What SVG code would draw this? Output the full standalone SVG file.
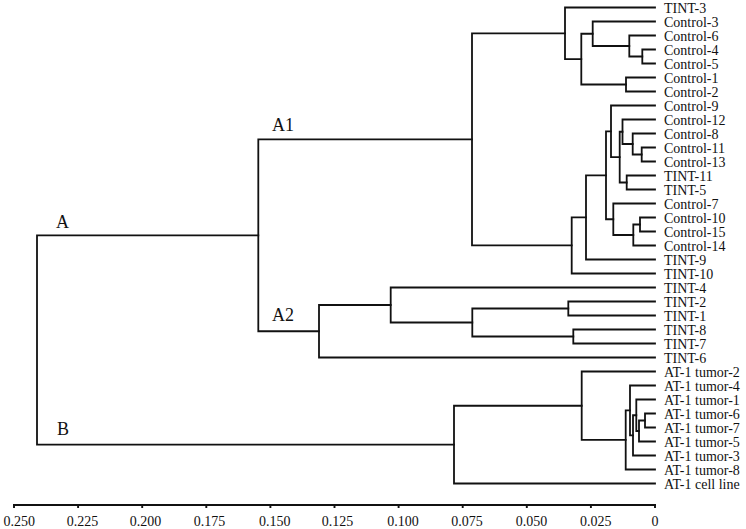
<svg xmlns="http://www.w3.org/2000/svg" width="746" height="529" viewBox="0 0 746 529">
<style>
.br{fill:none;stroke:#111;stroke-width:1.8;stroke-linejoin:miter;stroke-linecap:square}
.ax{fill:none;stroke:#111;stroke-width:1.9}
.lf{font-family:"Liberation Serif","Times New Roman",serif;font-size:14px;fill:#111}
.tk{font-family:"Liberation Serif","Times New Roman",serif;font-size:14px;fill:#111;text-anchor:middle}
.cl{font-family:"Liberation Serif","Times New Roman",serif;font-size:18px;fill:#111}
</style>
<rect width="746" height="529" fill="#fff"/>
<g id="connectors" class="br">
<path d="M655 49.5H642.3V63.5H655"/>
<path d="M655 35.5H629.3V56.5H642.3"/>
<path d="M655 21.5H592.7V46H629.3"/>
<path d="M655 77.5H626V91.5H655"/>
<path d="M592.7 33.75H581.3V84.5H626"/>
<path d="M655 7.5H565V59.13H581.3"/>
<path d="M655 147.5H641.7V161.5H655"/>
<path d="M655 133.5H632.7V154.5H641.7"/>
<path d="M655 119.5H622.5V144H632.7"/>
<path d="M655 175.5H626.7V189.5H655"/>
<path d="M622.5 131.75H619.7V182.5H626.7"/>
<path d="M655 105.5H611V157.13H619.7"/>
<path d="M655 217.5H640V231.5H655"/>
<path d="M640 224.5H633.3V245.5H655"/>
<path d="M655 203.5H613.3V235H633.3"/>
<path d="M611 131.31H606V219.25H613.3"/>
<path d="M606 175.28H586V259.5H655"/>
<path d="M586 217.39H571.7V273.5H655"/>
<path d="M565 33.31H472V245.45H571.7"/>
<path d="M655 301.5H568.3V315.5H655"/>
<path d="M655 329.5H573.3V343.5H655"/>
<path d="M568.3 308.5H472.3V336.5H573.3"/>
<path d="M655 287.5H390.7V322.5H472.3"/>
<path d="M390.7 305H319V357.5H655"/>
<path d="M472 139.38H258.3V331.25H319"/>
<path d="M655 413.5H645V427.5H655"/>
<path d="M645 420.5H639V441.5H655"/>
<path d="M655 399.5H636.3V431H639"/>
<path d="M636.3 415.25H633V455.5H655"/>
<path d="M655 385.5H630V435.38H633"/>
<path d="M630 410.44H625.7V469.5H655"/>
<path d="M655 371.5H581.7V439.97H625.7"/>
<path d="M581.7 405.73H454V483.5H655"/>
<path d="M258.3 235.31H37V444.62H454"/>
</g>
<g id="clusters" class="cl">
<text id="label-A" x="56" y="228">A</text>
<text id="label-A1" x="272" y="131">A1</text>
<text id="label-A2" x="272" y="321">A2</text>
<text id="label-B" x="57" y="435">B</text>
</g>
<g id="leaves" class="lf">
<g id="leaf-TINT-3"><text x="664" y="12.5">TINT-3</text></g>
<g id="leaf-Control-3"><text x="664" y="26.5">Control-3</text></g>
<g id="leaf-Control-6"><text x="664" y="40.5">Control-6</text></g>
<g id="leaf-Control-4"><text x="664" y="54.5">Control-4</text></g>
<g id="leaf-Control-5"><text x="664" y="68.5">Control-5</text></g>
<g id="leaf-Control-1"><text x="664" y="82.5">Control-1</text></g>
<g id="leaf-Control-2"><text x="664" y="96.5">Control-2</text></g>
<g id="leaf-Control-9"><text x="664" y="110.5">Control-9</text></g>
<g id="leaf-Control-12"><text x="664" y="124.5">Control-12</text></g>
<g id="leaf-Control-8"><text x="664" y="138.5">Control-8</text></g>
<g id="leaf-Control-11"><text x="664" y="152.5">Control-11</text></g>
<g id="leaf-Control-13"><text x="664" y="166.5">Control-13</text></g>
<g id="leaf-TINT-11"><text x="664" y="180.5">TINT-11</text></g>
<g id="leaf-TINT-5"><text x="664" y="194.5">TINT-5</text></g>
<g id="leaf-Control-7"><text x="664" y="208.5">Control-7</text></g>
<g id="leaf-Control-10"><text x="664" y="222.5">Control-10</text></g>
<g id="leaf-Control-15"><text x="664" y="236.5">Control-15</text></g>
<g id="leaf-Control-14"><text x="664" y="250.5">Control-14</text></g>
<g id="leaf-TINT-9"><text x="664" y="264.5">TINT-9</text></g>
<g id="leaf-TINT-10"><text x="664" y="278.5">TINT-10</text></g>
<g id="leaf-TINT-4"><text x="664" y="292.5">TINT-4</text></g>
<g id="leaf-TINT-2"><text x="664" y="306.5">TINT-2</text></g>
<g id="leaf-TINT-1"><text x="664" y="320.5">TINT-1</text></g>
<g id="leaf-TINT-8"><text x="664" y="334.5">TINT-8</text></g>
<g id="leaf-TINT-7"><text x="664" y="348.5">TINT-7</text></g>
<g id="leaf-TINT-6"><text x="664" y="362.5">TINT-6</text></g>
<g id="leaf-AT1-tumor-2"><text x="664" y="376.5">AT-1 tumor-2</text></g>
<g id="leaf-AT1-tumor-4"><text x="664" y="390.5">AT-1 tumor-4</text></g>
<g id="leaf-AT1-tumor-1"><text x="664" y="404.5">AT-1 tumor-1</text></g>
<g id="leaf-AT1-tumor-6"><text x="664" y="418.5">AT-1 tumor-6</text></g>
<g id="leaf-AT1-tumor-7"><text x="664" y="432.5">AT-1 tumor-7</text></g>
<g id="leaf-AT1-tumor-5"><text x="664" y="446.5">AT-1 tumor-5</text></g>
<g id="leaf-AT1-tumor-3"><text x="664" y="460.5">AT-1 tumor-3</text></g>
<g id="leaf-AT1-tumor-8"><text x="664" y="474.5">AT-1 tumor-8</text></g>
<g id="leaf-AT1-cell-line"><text x="664" y="488.5">AT-1 cell line</text></g>
</g>
<g id="axis">
<path class="ax" d="M13 505H656M14 505V508M78.1 505V508M142.2 505V508M206.3 505V508M270.4 505V508M334.5 505V508M398.6 505V508M462.7 505V508M526.8 505V508M590.9 505V508M655 505V508"/>
<g class="tk">
<text x="19.2" y="526">0.250</text>
<text x="82.5" y="526">0.225</text>
<text x="145.5" y="526">0.200</text>
<text x="209.5" y="526">0.175</text>
<text x="274.8" y="526">0.150</text>
<text x="337.5" y="526">0.125</text>
<text x="403" y="526">0.100</text>
<text x="467" y="526">0.075</text>
<text x="531.5" y="526">0.050</text>
<text x="595.8" y="526">0.025</text>
<text x="655" y="526">0</text>
</g>
</g>
</svg>
